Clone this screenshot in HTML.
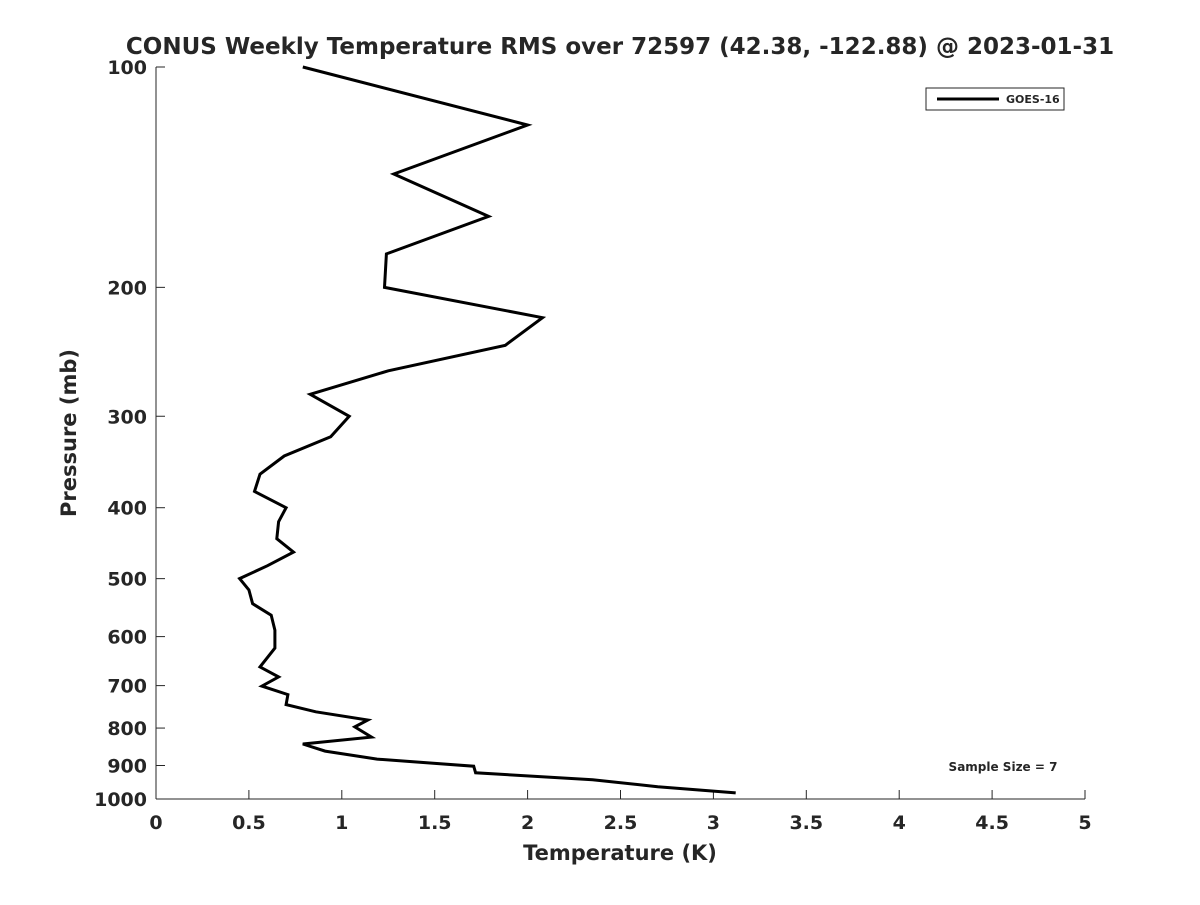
<!DOCTYPE html>
<html><head><meta charset="utf-8"><style>
body{margin:0;background:#fff;}
text{font-family:"DejaVu Sans","Liberation Sans",sans-serif;font-weight:bold;fill:#262626;}
</style></head><body>
<svg id="chart" width="1200" height="900" xmlns="http://www.w3.org/2000/svg">
<rect width="1200" height="900" fill="#fff"/>
<text x="620" y="54" font-size="23" text-anchor="middle">CONUS Weekly Temperature RMS over 72597 (42.38, -122.88) @ 2023-01-31</text>
<g id="axes"></g>
<path id="series" fill="none" stroke="#000" stroke-width="3" stroke-linejoin="miter"/>
<text x="620" y="860" font-size="21" text-anchor="middle">Temperature (K)</text>
<text transform="translate(76,433) rotate(-90)" font-size="21" text-anchor="middle">Pressure (mb)</text>
<g>
<rect x="926" y="88" width="138" height="22" fill="#fff" stroke="#262626" stroke-width="1"/>
<line x1="937" y1="99" x2="999" y2="99" stroke="#000" stroke-width="3"/>
<text x="1006" y="103" font-size="11">GOES-16</text>
</g>
<text x="1003" y="771" font-size="12" text-anchor="middle">Sample Size = 7</text>
</svg>
<script>
const pressures=[100,120,140,160,180,200,220,240,260,280,300,320,340,360,380,400,418,441,460,480,500,518,541,561,588,622,660,681,701,720,743,760,780,797,823,841,860,882,902,921,941,962,981];
const temps=[0.79,2.00,1.28,1.79,1.24,1.23,2.08,1.88,1.25,0.83,1.04,0.94,0.69,0.56,0.53,0.70,0.66,0.65,0.74,0.60,0.45,0.50,0.52,0.62,0.64,0.64,0.56,0.66,0.57,0.71,0.70,0.86,1.14,1.07,1.16,0.79,0.91,1.19,1.71,1.72,2.35,2.70,3.12];
const xTicks=[0,0.5,1,1.5,2,2.5,3,3.5,4,4.5,5];
const yTicks=[100,200,300,400,500,600,700,800,900,1000];
const L=156,R=1085,T=67,B=799;
const xs=v=>L+(v-0)/(5-0)*(R-L);
const ys=p=>T+(Math.log10(p)-2)/(1)*(B-T);
const NS="http://www.w3.org/2000/svg";
const ax=document.getElementById('axes');
function mk(tag,attrs,txt){const e=document.createElementNS(NS,tag);for(const k in attrs)e.setAttribute(k,attrs[k]);if(txt!==undefined)e.textContent=txt;ax.appendChild(e);return e;}
let e=mk('line',{x1:L,y1:B,x2:R,y2:B,stroke:'#262626','stroke-width':1});


e=mk('line',{x1:L,y1:T,x2:L,y2:B,stroke:'#262626','stroke-width':1});


xTicks.forEach(v=>{
 const x=xs(v);
 let t=mk('line',{x1:x,y1:B,x2:x,y2:B-9,stroke:'#262626','stroke-width':1});
 
 
 let l=mk('text',{x:x,y:829,'font-size':19,'text-anchor':'middle'},String(v));
 
 
});
yTicks.forEach(p=>{
 const y=ys(p);
 let t=mk('line',{x1:L,y1:y,x2:L+9,y2:y,stroke:'#262626','stroke-width':1});
 
 
 let l=mk('text',{x:147,y:y+7,'font-size':19,'text-anchor':'end'},String(p));
 
 
});
document.getElementById('series').setAttribute('d',pressures.map((p,i)=>(i?'L':'M')+xs(temps[i]).toFixed(1)+','+ys(p).toFixed(1)).join(' '));
</script>
</body></html>
